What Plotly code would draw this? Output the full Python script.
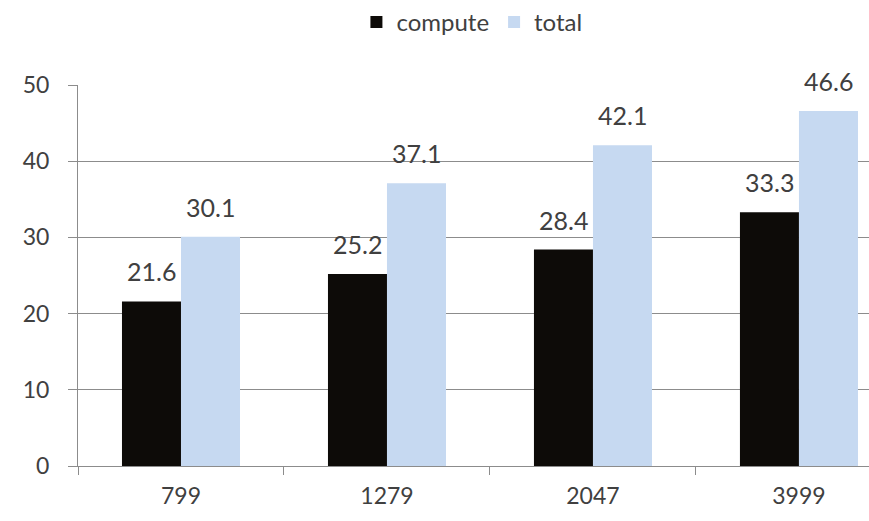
import plotly.graph_objects as go

categories = ["799", "1279", "2047", "3999"]
compute = [21.6, 25.2, 28.4, 33.3]
total = [30.1, 37.1, 42.1, 46.6]
y_ticks = [0, 10, 20, 30, 40, 50]

FONT = "Lato, 'Open Sans', sans-serif"
TXT = "#404040"

fig = go.Figure()
fig.add_trace(go.Bar(name="compute", x=categories, y=compute,
                     marker=dict(color="#0d0b08", line=dict(width=0))))
fig.add_trace(go.Bar(name="total", x=categories, y=total,
                     marker=dict(color="#c6d9f1", line=dict(width=0))))

annotations = []
for shift, vals in ((-29.4, compute), (29.4, total)):
    for i, v in enumerate(vals):
        annotations.append(dict(x=i, y=v, xref="x", yref="y", text=f"{v:.1f}",
                                showarrow=False, xshift=shift, yshift=13,
                                yanchor="bottom",
                                font=dict(family=FONT, size=25, color=TXT)))

fig.update_layout(
    width=869, height=521,
    margin=dict(l=78, r=0, t=83, b=55),
    paper_bgcolor="white", plot_bgcolor="white",
    barmode="group", bargap=0.427, bargroupgap=0,
    font=dict(family=FONT, size=23, color=TXT),
    showlegend=True,
    legend=dict(orientation="h", x=0.498, xanchor="center", y=1 + (83 - 20) / 383,
                yanchor="middle", font=dict(size=24, color=TXT),
                itemwidth=30, tracegroupgap=0, traceorder="normal"),
    annotations=annotations,
    xaxis=dict(type="category", range=[-0.5, 3.34], showgrid=False,
               showline=True, linecolor="#8c8c8c", linewidth=1,
               ticks="outside", ticklen=8, tickcolor="#8c8c8c",
               tickson="boundaries", tickfont=dict(size=23, color=TXT),
               ticklabelstandoff=9),
    yaxis=dict(range=[0, 50], tickvals=y_ticks, showgrid=True,
               gridcolor="#8c8c8c", gridwidth=1,
               showline=True, linecolor="#8c8c8c", linewidth=1,
               ticks="outside", ticklen=9, tickcolor="#8c8c8c",
               tickfont=dict(size=23, color=TXT), ticklabelstandoff=14,
               zeroline=False),
)

fig.write_html("out.html")
